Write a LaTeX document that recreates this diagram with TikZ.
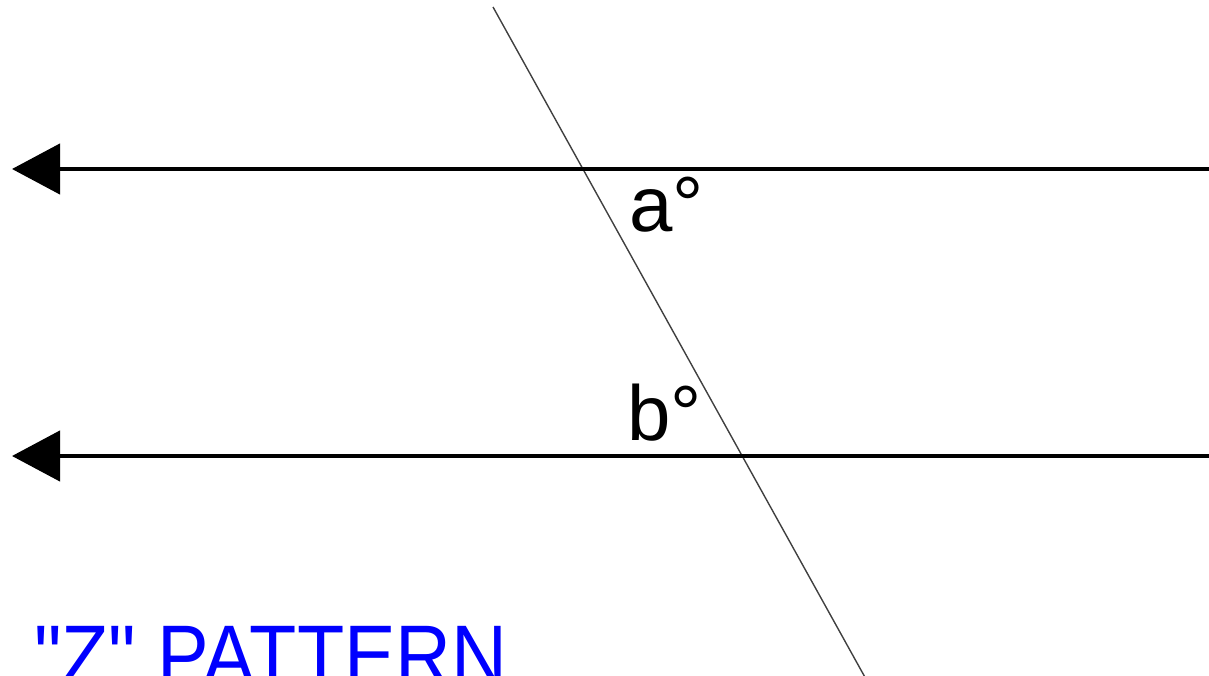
\documentclass[tikz,border=0pt]{standalone}
\usepackage{fontspec}
\setmainfont{Liberation Sans}
\newfontfamily\titlefont{Liberation Sans}
\usetikzlibrary{arrows.meta}
\begin{document}
\begin{tikzpicture}[x=1pt,y=-1pt,
  parline/.style={line width=4.5pt,-{Triangle[length=48pt,width=50pt]}},
  transv/.style={line width=1.4pt,black!75},
  anglabel/.style={anchor=base west,inner sep=0pt,font=\fontsize{78}{80}\selectfont},
  title/.style={anchor=base west,inner sep=0pt,text=blue,font=\titlefont\fontsize{86}{90}\selectfont}]
\useasboundingbox (0,0) rectangle (1209,676);
\coordinate (R1) at (1209,169);
\coordinate (L1) at (12,169);
\coordinate (R2) at (1209,456);
\coordinate (L2) at (12,456);
\coordinate (T1) at (493,7);
\coordinate (T2) at (866.5,680);
\draw[transv] (T1) -- (T2);
\draw[parline] (R1) -- (L1);
\draw[parline] (R2) -- (L2);
\node[anglabel] (a) at (629,232) {a°};
\node[anglabel] (b) at (627,440) {b°};
\node[title] (z) at (34,685) {\scalebox{0.9}[1]{"Z" PATTERN}};
\end{tikzpicture}
\end{document}
